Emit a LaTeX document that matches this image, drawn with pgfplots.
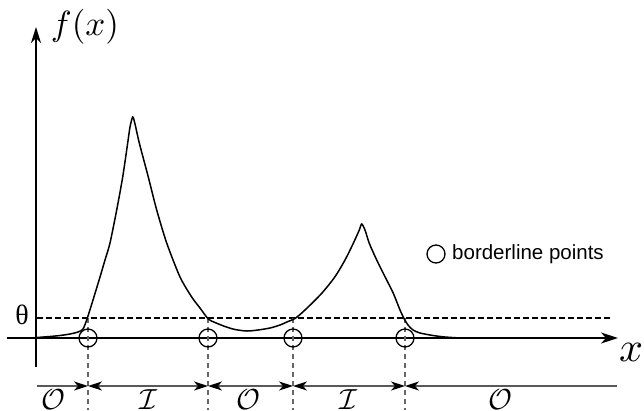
\documentclass[border=0pt]{standalone}
\usepackage{pgfplots}
\pgfplotsset{compat=1.18}
\usepackage{fontspec}
\newfontfamily\legendfont{Liberation Sans}
\newfontfamily\thetafont{Liberation Serif}
\usetikzlibrary{arrows.meta}

\tikzset{
  hd/.tip={Stealth[black,length=14pt,width=9pt,inset=4pt]},
  ivl/.style={line width=1.3pt, color=black!65},
  sep/.style={line width=1.3pt, color=black!60, dash pattern=on 5pt off 4pt},
}

% the density curve, in drawing units (y grows downward)
\pgfplotstableread{
x y
37 337.5
50 336.5
60 335.5
70 334
78 332
83 329
87 319
93 300
100 277
105 260
110 243
116.7 210
122.7 177
127.7 143
130 127
132.7 117
135 124
139.3 143
148.3 177
156.7 210
166.7 243
180 277
191.7 297
200 308
208.3 319
215 322.5
225 326.5
235 329.5
247 331
258 330
270 328
280 325
288 321.5
295 318.5
305 310
321.7 293.3
335 276.7
345 260
353.3 243.3
359.3 230
361.7 224
365 230
369.3 243.3
376.7 260
385 276.7
393.3 293.3
400 310
404.3 319
408 325
413 330
420 333
433 335.5
445 337
460 338
}\curvedata

\pgfplotstableread{
x y
88 338
208 338
293 338
405 338
}\borderpts

\begin{document}
\begin{tikzpicture}
\begin{axis}[
  width=644pt, height=410pt, scale only axis,
  xmin=0, xmax=644, ymin=0, ymax=410, y dir=reverse,
  axis lines=none, clip=false,
]
\coordinate (sw) at (rel axis cs:0,0);
\coordinate (ne) at (rel axis cs:1,1);

% coordinate axes
\draw[line width=1.6pt, -{Stealth[length=16pt,width=10pt,inset=5pt]}]
  (axis cs:36,367) -- (axis cs:36,27);
\draw[line width=1.6pt, -{Stealth[length=17pt,width=11pt,inset=5pt]}]
  (axis cs:7,338) -- (axis cs:618,338);

% threshold
\draw[line width=1.4pt, dash pattern=on 5.5pt off 3.5pt]
  (axis cs:37,318) -- (axis cs:612,318);

% vertical separators at the borderline points
\draw[sep] (axis cs:88,318) -- (axis cs:88,410);
\draw[sep] (axis cs:208,318) -- (axis cs:208,410);
\draw[sep] (axis cs:293,318) -- (axis cs:293,410);
\draw[sep] (axis cs:405,318) -- (axis cs:405,410);

% interval arrows
\draw[ivl, -hd] (axis cs:37,386) -- (axis cs:88,386);
\draw[ivl, hd-hd] (axis cs:88,386) -- (axis cs:208,386);
\draw[ivl, hd-hd] (axis cs:208,386) -- (axis cs:293,386);
\draw[ivl, hd-hd] (axis cs:293,386) -- (axis cs:405,386);
\draw[ivl, hd-] (axis cs:405,386) -- (axis cs:617,386);

% curve
\addplot[black, line width=1.5pt, smooth, tension=0.45] table[x=x, y=y] {\curvedata};

% borderline points
\addplot[only marks, mark=o, mark size=9pt, mark options={line width=1.3pt, black}]
  table[x=x, y=y] {\borderpts};
\addplot[only marks, mark=o, mark size=9pt, mark options={line width=1.3pt, black}]
  coordinates {(436,254)};
\node[anchor=west, inner sep=0pt, font=\legendfont\fontsize{20.5}{24}\selectfont]
  at (axis cs:452,254) {borderline points};

% labels
\node[scale=3.5] at (axis cs:85,27) {$f(x)$};
\node[scale=4.2] at (axis cs:631,352) {$x$};
\node[font=\thetafont\fontsize{28}{32}\selectfont] at (axis cs:22,315) {θ};
\node[scale=2.9] at (axis cs:53,400) {$\mathcal{O}$};
\node[scale=2.9] at (axis cs:148,400) {$\mathcal{I}$};
\node[scale=2.9] at (axis cs:248,400) {$\mathcal{O}$};
\node[scale=2.9] at (axis cs:348,400) {$\mathcal{I}$};
\node[scale=2.9] at (axis cs:500,400) {$\mathcal{O}$};
\end{axis}
\pgfresetboundingbox
\path (sw) rectangle (ne);
\end{tikzpicture}
\end{document}
